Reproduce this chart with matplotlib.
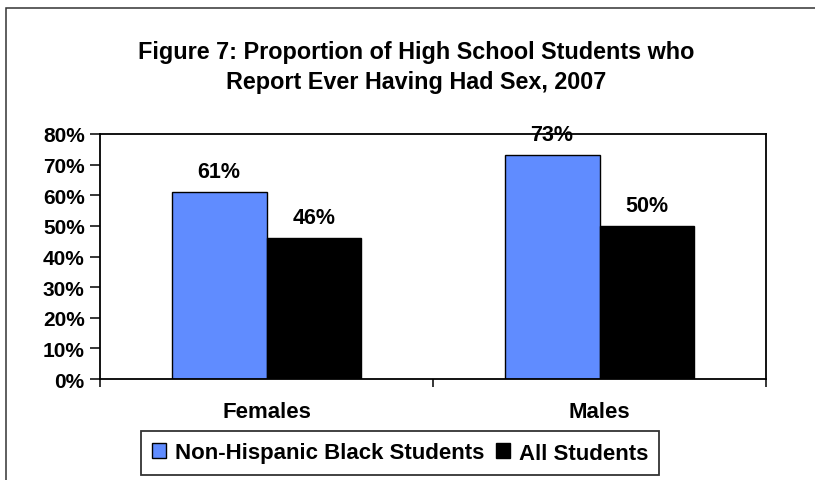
import matplotlib.pyplot as plt
from matplotlib.patches import Rectangle
from matplotlib.ticker import PercentFormatter

categories = ["Females", "Males"]
black_students = [61, 73]
all_students = [46, 50]
series_names = ["Non-Hispanic Black Students", "All Students"]

plt.rcParams['font.family'] = ['Liberation Sans', 'DejaVu Sans']
plt.rcParams['font.weight'] = 'bold'

W, H = 815, 481
fig = plt.figure(figsize=(W / 100, H / 100), dpi=100)
ax = fig.add_axes([100 / W, 1 - 380 / H, 666 / W, 245 / H])

# outer chart frame (only left and top edges are inside the picture)
fig.patches.append(Rectangle((6 / W, -0.5), 2, 1.5 - 9 / H, transform=fig.transFigure,
                             fill=False, edgecolor='#333333', linewidth=1.1))

x = list(range(len(categories)))
w = 0.285
blue = '#608CFF'
b1 = ax.bar([i - w / 2 for i in x], black_students, w, color=blue, edgecolor='black',
            linewidth=1.0, label=series_names[0])
b2 = ax.bar([i + w / 2 for i in x], all_students, w, color='black', edgecolor='black',
            linewidth=1.0, label=series_names[1])

for bars, vals in ((b1, black_students), (b2, all_students)):
    for r, v in zip(bars, vals):
        ax.annotate(f"{v}%", (r.get_x() + r.get_width() / 2, v), xytext=(0, 11),
                    textcoords='offset points', ha='center', va='baseline',
                    fontsize=15.5, fontweight='bold', clip_on=False)

ax.set_xlim(-0.5, 1.5)
ax.set_ylim(0, 80)
ax.set_yticks(range(0, 81, 10))
ax.yaxis.set_major_formatter(PercentFormatter(decimals=0))
ax.set_xticks(x, categories)
ax.set_xticks([-0.5, 0.5, 1.5], minor=True)
ax.tick_params(axis='x', which='major', length=0, pad=16, labelsize=16)
ax.tick_params(axis='x', which='minor', length=6, width=1.1, direction='out')
ax.tick_params(axis='y', length=7, width=1.1, direction='out', pad=4, labelsize=15)
for s in ax.spines.values():
    s.set_linewidth(1.3)
    s.set_color('black')

fig.text(416 / W, 1 - 67.5 / H, "Figure 7: Proportion of High School Students who\nReport Ever Having Had Sex, 2007",
         ha='center', va='center', fontsize=16.8, fontweight='bold', linespacing=1.42)

leg = fig.legend(loc='center', bbox_to_anchor=(400 / W, 1 - 454 / H), ncol=2, frameon=True,
                 fancybox=False, edgecolor='black', fontsize=16, handlelength=0.65,
                 handleheight=0.65, handletextpad=0.4, columnspacing=0.5, borderpad=0.5,
                 borderaxespad=0)
leg.get_frame().set_linewidth(1.3)

fig.savefig("out.png", dpi=100)
